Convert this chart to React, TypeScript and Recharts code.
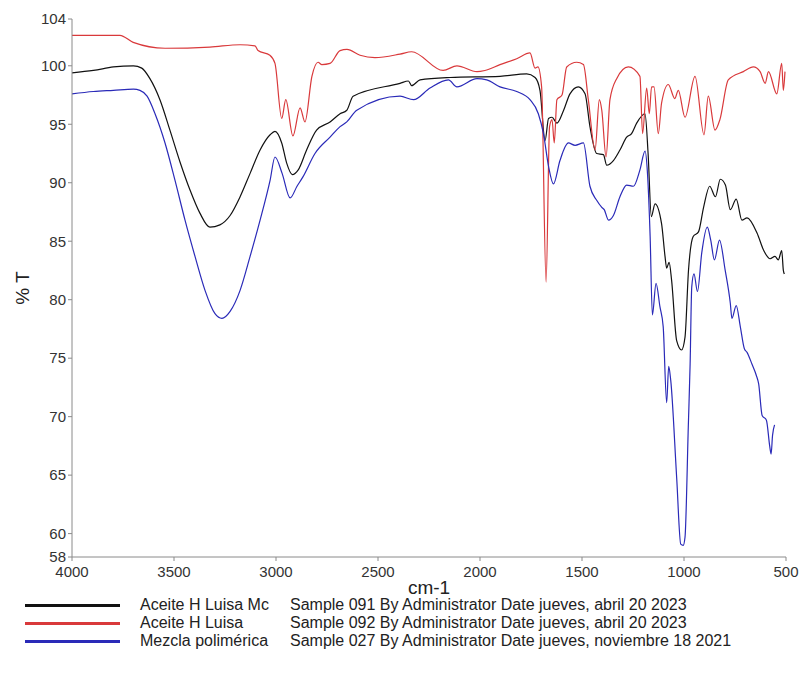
import { LineChart, Line, XAxis, YAxis } from 'recharts'

const wnAceiteMc = [4000, 3895, 3797, 3699, 3658, 3618, 3569, 3520, 3471, 3422, 3373, 3324, 3275, 3225, 3176, 3127, 3078, 3029, 3005, 2972, 2948, 2920, 2891, 2850, 2801, 2735, 2686, 2653, 2622, 2392, 2351, 2335, 2294, 2147, 1902, 1771, 1730, 1706, 1681, 1664, 1647, 1623, 1590, 1559, 1518, 1485, 1461, 1428, 1395, 1379, 1346, 1314, 1281, 1257, 1232, 1191, 1176, 1160, 1142, 1110, 1093, 1085, 1073, 1061, 1036, 1012, 995, 978, 955, 929, 904, 874, 846, 822, 797, 773, 744, 716, 691, 642, 609, 578, 554, 538, 521, 513, 508]
const tAceiteMc = [99.4, 99.6, 99.9, 100.0, 99.8, 98.9, 97.1, 94.5, 91.8, 89.4, 87.4, 86.2, 86.4, 87.2, 88.8, 90.8, 92.8, 94.1, 94.4, 93.4, 91.7, 90.7, 91.1, 92.8, 94.5, 95.2, 95.9, 96.2, 97.4, 98.5, 98.7, 98.3, 98.8, 99.0, 99.1, 99.3, 99.0, 97.9, 93.6, 95.5, 95.6, 95.1, 96.2, 97.6, 98.2, 97.6, 94.8, 92.5, 92.4, 91.5, 91.9, 92.8, 93.9, 94.2, 95.1, 95.9, 92.5, 87.1, 88.2, 86.5, 83.7, 82.7, 83.2, 81.7, 76.5, 75.7, 76.8, 82.5, 85.4, 85.8, 87.9, 89.7, 88.8, 90.3, 89.8, 87.7, 88.6, 86.8, 87.0, 85.7, 84.2, 83.5, 83.7, 83.4, 84.2, 82.5, 82.2]

const wnAceite = [4000, 3765, 3700, 3544, 3324, 3176, 3103, 3088, 3030, 3005, 2972, 2952, 2917, 2882, 2858, 2824, 2794, 2775, 2735, 2686, 2652, 2588, 2515, 2392, 2335, 2181, 2113, 2015, 1976, 1902, 1820, 1755, 1730, 1716, 1698, 1676, 1659, 1647, 1636, 1623, 1598, 1575, 1526, 1493, 1469, 1436, 1415, 1403, 1382, 1363, 1330, 1273, 1216, 1203, 1183, 1170, 1159, 1147, 1126, 1110, 1077, 1045, 1028, 995, 946, 902, 881, 848, 824, 783, 709, 660, 627, 602, 586, 545, 521, 513, 505]
const tAceite = [102.6, 102.6, 102.0, 101.5, 101.6, 101.8, 101.7, 101.3, 100.9, 100.2, 95.5, 97.1, 94.0, 96.4, 95.2, 99.1, 100.3, 100.1, 100.2, 101.3, 101.4, 100.9, 100.7, 101.0, 101.2, 99.6, 100.0, 99.5, 99.6, 100.1, 100.6, 101.1, 99.8, 99.9, 98.2, 81.5, 94.8, 95.4, 93.4, 97.1, 97.5, 99.9, 100.3, 100.1, 97.1, 92.8, 97.1, 96.2, 92.2, 97.1, 98.9, 99.9, 99.1, 94.2, 98.1, 95.9, 98.2, 98.2, 94.2, 96.8, 98.4, 97.2, 97.9, 95.6, 99.1, 94.1, 97.4, 94.5, 95.4, 98.8, 99.5, 99.9, 99.5, 98.5, 99.5, 97.6, 100.2, 97.9, 99.5]

const wnMezcla = [4000, 3895, 3797, 3699, 3667, 3632, 3593, 3544, 3495, 3446, 3397, 3348, 3299, 3265, 3225, 3176, 3127, 3078, 3029, 3005, 2970, 2931, 2897, 2868, 2809, 2735, 2686, 2653, 2604, 2392, 2326, 2245, 2155, 2113, 2015, 1967, 1902, 1820, 1755, 1714, 1689, 1664, 1640, 1608, 1567, 1534, 1493, 1461, 1428, 1403, 1391, 1370, 1346, 1314, 1281, 1248, 1216, 1191, 1179, 1166, 1155, 1137, 1118, 1102, 1085, 1075, 1065, 1036, 1016, 1004, 995, 979, 970, 962, 951, 934, 913, 886, 869, 851, 826, 798, 773, 765, 744, 724, 704, 691, 667, 645, 634, 617, 596, 580, 573, 566, 556]
const tMezcla = [97.6, 97.8, 97.9, 98.0, 97.9, 97.4, 95.9, 93.4, 90.2, 86.8, 83.7, 80.8, 78.8, 78.4, 79.0, 80.8, 83.7, 86.8, 90.2, 92.2, 90.8, 88.7, 89.7, 90.5, 92.5, 93.9, 94.8, 95.2, 96.2, 97.4, 97.1, 98.1, 98.8, 98.2, 98.9, 98.8, 98.2, 97.8, 97.1, 95.9, 94.2, 91.4, 89.9, 91.9, 93.4, 93.2, 93.4, 89.7, 88.5, 87.9, 87.7, 86.8, 87.2, 88.8, 89.8, 89.7, 91.1, 92.7, 90.8, 85.4, 78.7, 81.4, 79.4, 77.7, 71.2, 74.3, 73.1, 64.8, 59.1, 59.0, 59.7, 69.1, 74.5, 81.1, 82.2, 80.7, 84.0, 86.2, 85.1, 83.4, 85.1, 82.5, 79.7, 78.4, 79.5, 77.7, 75.8, 75.5, 74.5, 73.5, 72.8, 70.1, 69.7, 67.5, 66.8, 68.4, 69.3]

const xTicks = [4000, 3500, 3000, 2500, 2000, 1500, 1000, 500]
const yTicks = [58, 60, 65, 70, 75, 80, 85, 90, 95, 100, 104]

const muestras = [
  { nombre: 'Aceite H Luisa Mc', info: 'Sample 091 By Administrator Date jueves, abril 20 2023', color: '#111111', wn: wnAceiteMc, t: tAceiteMc },
  { nombre: 'Aceite H Luisa', info: 'Sample 092 By Administrator Date jueves, abril 20 2023', color: '#d9393b', wn: wnAceite, t: tAceite },
  { nombre: 'Mezcla polimérica', info: 'Sample 027 By Administrator Date jueves, noviembre 18 2021', color: '#2a2ab8', wn: wnMezcla, t: tMezcla },
]

const fuente = "'Liberation Sans', Arial, sans-serif"

export default function App() {
  const series = muestras.map(m => ({
    ...m,
    data: m.wn.map((w, i) => ({ wn: w, t: m.t[i] })),
  }))

  return (
    <div style={{ position: 'absolute', left: 0, top: 0, width: 799, height: 675, background: '#fff', fontFamily: fuente }}>
      <LineChart width={799} height={610} margin={{ top: 19, right: 13, bottom: 8, left: 0 }}>
        <XAxis
          type="number"
          dataKey="wn"
          domain={[500, 4000]}
          reversed
          ticks={xTicks}
          interval={0}
          height={45}
          tickSize={4}
          tickMargin={5}
          stroke="#8a8a8a"
          tick={{ fill: '#333', fontSize: 15, fontFamily: fuente }}
          label={{ value: 'cm-1', position: 'insideBottom', offset: 8, style: { fill: '#222', fontSize: 19, fontFamily: fuente } }}
        />
        <YAxis
          type="number"
          domain={[58, 104]}
          ticks={yTicks}
          interval={0}
          width={72}
          tickSize={4}
          stroke="#8a8a8a"
          tick={{ fill: '#333', fontSize: 15, fontFamily: fuente }}
          label={{ value: '% T', angle: -90, position: 'insideLeft', offset: 22, style: { fill: '#222', fontSize: 19, fontFamily: fuente, textAnchor: 'middle' } }}
        />
        {series.map(s => (
          <Line
            key={s.nombre}
            data={s.data}
            dataKey="t"
            type="monotone"
            stroke={s.color}
            strokeWidth={1.2}
            dot={false}
            activeDot={false}
            isAnimationActive={false}
          />
        ))}
      </LineChart>

      <div style={{ position: 'absolute', left: 0, top: 596 }}>
        {muestras.map(m => (
          <div key={m.nombre} style={{ display: 'flex', alignItems: 'center', height: 18, fontSize: 16, color: '#222' }}>
            <div style={{ marginLeft: 25, width: 95, height: 3, background: m.color }} />
            <div style={{ marginLeft: 20, width: 150 }}>{m.nombre}</div>
            <div>{m.info}</div>
          </div>
        ))}
      </div>
    </div>
  )
}
